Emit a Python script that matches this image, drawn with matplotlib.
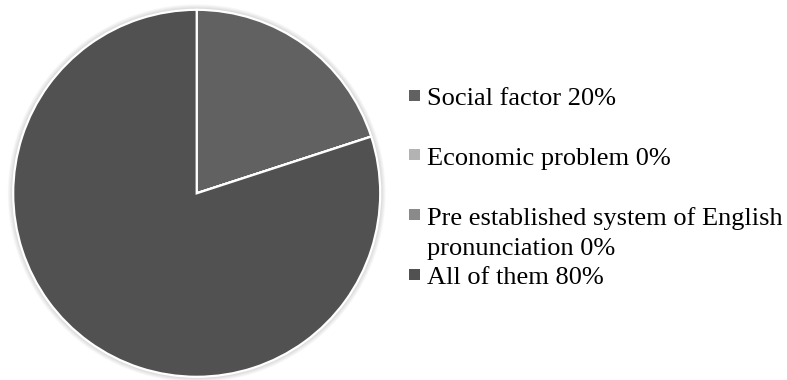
"""Pie chart of factors behind pronunciation problems, grey Excel-style."""

import matplotlib

matplotlib.use("Agg")
import matplotlib.pyplot as plt
from matplotlib.patches import Circle, Rectangle

CATEGORIES = [
    "Social factor",
    "Economic problem",
    "Pre established system of English\npronunciation",
    "All of them",
]
PERCENTS = [20, 0, 0, 80]
COLORS = ["#616161", "#b3b3b3", "#8a8a8a", "#515151"]

W, H = 787, 380
CX, CY, R = 196.7, 193.3, 183.5  # pie centre / radius in pixels
PAD = 1.04
LEGEND_Y = [95, 155, 214.5, 274]  # square centres, pixels from top
LINE_H = 30


def fx(px):
    return px / W


def fy(py):
    return 1 - py / H


fig = plt.figure(figsize=(W / 100, H / 100), dpi=100)
plt.rcParams["font.family"] = ["Liberation Serif", "DejaVu Serif"]

half = R * PAD
ax = fig.add_axes([fx(CX - half), fy(CY + half), 2 * half / W, 2 * half / H])

# soft outer shadow
for k in range(6):
    ax.add_patch(Circle((0, 0), 1.0 + 0.005 * (k + 1), color="#000000",
                        alpha=0.028, lw=0, zorder=0))

ax.pie(
    PERCENTS,
    colors=COLORS,
    startangle=90,
    counterclock=False,
    radius=1.0,
    wedgeprops=dict(edgecolor="white", linewidth=1.6),
)
ax.set_xlim(-PAD, PAD)
ax.set_ylim(-PAD, PAD)
ax.set_aspect("auto")
ax.axis("off")

# legend, drawn by hand to match the uneven Excel spacing
sq = 11
for cat, pct, col, yc in zip(CATEGORIES, PERCENTS, COLORS, LEGEND_Y):
    fig.patches.append(
        Rectangle((fx(408.5), fy(yc + sq / 2)), sq / W, sq / H,
                  transform=fig.transFigure, facecolor=col, edgecolor="none")
    )
    lines = f"{cat} {pct}%".split("\n")
    for i, line in enumerate(lines):
        fig.text(fx(427), fy(yc + 10 + i * LINE_H), line, fontsize=19.0,
                 ha="left", va="baseline", color="black")

fig.savefig("out.png", dpi=100)
